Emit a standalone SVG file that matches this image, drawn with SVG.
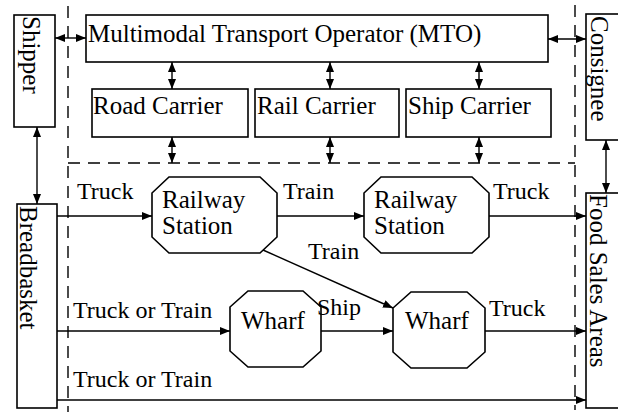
<svg xmlns="http://www.w3.org/2000/svg" width="618" height="412" viewBox="0 0 618 412">
<style>
.box{fill:#fff;stroke:#000;stroke-width:1.6}
.t{font-family:'Liberation Serif','Times New Roman',Times,serif;font-size:25px;fill:#000}
.l{font-family:'Liberation Serif','Times New Roman',Times,serif;font-size:24px;fill:#000}
.ln{stroke:#000;stroke-width:1.4;fill:none}
.dash{stroke:#000;stroke-width:1.4;fill:none;stroke-dasharray:12 8}
.a1{marker-end:url(#ah)}
.a2{marker-start:url(#ah);marker-end:url(#ah)}
</style>
<defs>
<marker id="ah" viewBox="0 0 10 8" refX="10" refY="4" markerWidth="10" markerHeight="8" markerUnits="userSpaceOnUse" orient="auto-start-reverse">
<path d="M0,0 L10,4 L0,8 z" fill="#000"/>
</marker>
</defs>
<rect width="618" height="412" fill="#fff"/>
<g id="boundaries">
<line class="dash" x1="68" y1="6" x2="68" y2="412"/>
<line class="dash" x1="575" y1="5" x2="575" y2="410"/>
<line class="dash" x1="68" y1="163" x2="575" y2="163"/>
</g>
<g id="shipper"><rect class="box" x="14" y="15" width="41" height="112"/><text class="t" transform="translate(23,16) rotate(90)">Shipper</text></g>
<g id="mto"><rect class="box" x="86" y="15" width="462" height="47"/><text class="t" x="88" y="42">Multimodal Transport Operator (MTO)</text></g>
<g id="consignee"><rect class="box" x="586" y="14" width="34" height="126"/><text class="t" transform="translate(591,16) rotate(90)">Consignee</text></g>
<g id="road"><rect class="box" x="92" y="89" width="156" height="48"/><text class="t" x="93" y="114">Road Carrier</text></g>
<g id="rail"><rect class="box" x="255" y="89" width="144" height="48"/><text class="t" x="257" y="114">Rail Carrier</text></g>
<g id="ship"><rect class="box" x="406" y="89" width="145" height="48"/><text class="t" x="408" y="114">Ship Carrier</text></g>
<g id="breadbasket"><rect class="box" x="17" y="204" width="40" height="204"/><text class="t" transform="translate(20,206) rotate(90)">Breadbasket</text></g>
<g id="food"><rect class="box" x="586" y="193" width="34" height="215"/><text class="t" transform="translate(590,194) rotate(90)">Food Sales Areas</text></g>
<g id="rs1"><polygon class="box" points="169,177 260,177 277,193 277,237 260,253 169,253 152,237 152,193"/><text class="t" x="162" y="208">Railway</text><text class="t" x="162" y="234">Station</text></g>
<g id="rs2"><polygon class="box" points="381,177 472,177 489,193 489,237 472,253 381,253 364,237 364,193"/><text class="t" x="374" y="208">Railway</text><text class="t" x="374" y="234">Station</text></g>
<g id="wharf1"><polygon class="box" points="248,291 303,291 321,307 321,351 303,367 248,367 230,351 230,307"/><text class="t" x="241" y="329">Wharf</text></g>
<g id="wharf2"><polygon class="box" points="411,292 467,292 485,308 485,352 467,368 411,368 393,352 393,308"/><text class="t" x="405" y="329">Wharf</text></g>
<g id="connectors">
<line class="ln a2" x1="55" y1="38" x2="86" y2="38"/>
<line class="ln a2" x1="548" y1="39" x2="586" y2="39"/>
<line class="ln a2" x1="172" y1="62" x2="172" y2="89"/>
<line class="ln a2" x1="330" y1="62" x2="330" y2="89"/>
<line class="ln a2" x1="479" y1="62" x2="479" y2="89"/>
<line class="ln a2" x1="172" y1="137" x2="172" y2="163"/>
<line class="ln a2" x1="330" y1="137" x2="330" y2="163"/>
<line class="ln a2" x1="479" y1="137" x2="479" y2="163"/>
<line class="ln a2" x1="37" y1="127" x2="37" y2="204"/>
<line class="ln a2" x1="606" y1="140" x2="606" y2="193"/>
<line class="ln a1" x1="57" y1="216" x2="152" y2="216"/>
<line class="ln a1" x1="277" y1="216" x2="364" y2="216"/>
<line class="ln a1" x1="489" y1="216" x2="586" y2="216"/>
<line class="ln a1" x1="263" y1="250" x2="393" y2="308"/>
<line class="ln a1" x1="57" y1="331" x2="230" y2="331"/>
<line class="ln a1" x1="321" y1="331" x2="393" y2="331"/>
<line class="ln a1" x1="485" y1="331" x2="586" y2="331"/>
<line class="ln a1" x1="57" y1="400" x2="586" y2="400"/>
<text class="l" x="77" y="199">Truck</text>
<text class="l" x="283" y="199">Train</text>
<text class="l" x="493" y="199">Truck</text>
<text class="l" x="308" y="259">Train</text>
<text class="l" x="73" y="318">Truck or Train</text>
<text class="l" x="317" y="315">Ship</text>
<text class="l" x="489" y="316">Truck</text>
<text class="l" x="73" y="387">Truck or Train</text>
</g>
</svg>
